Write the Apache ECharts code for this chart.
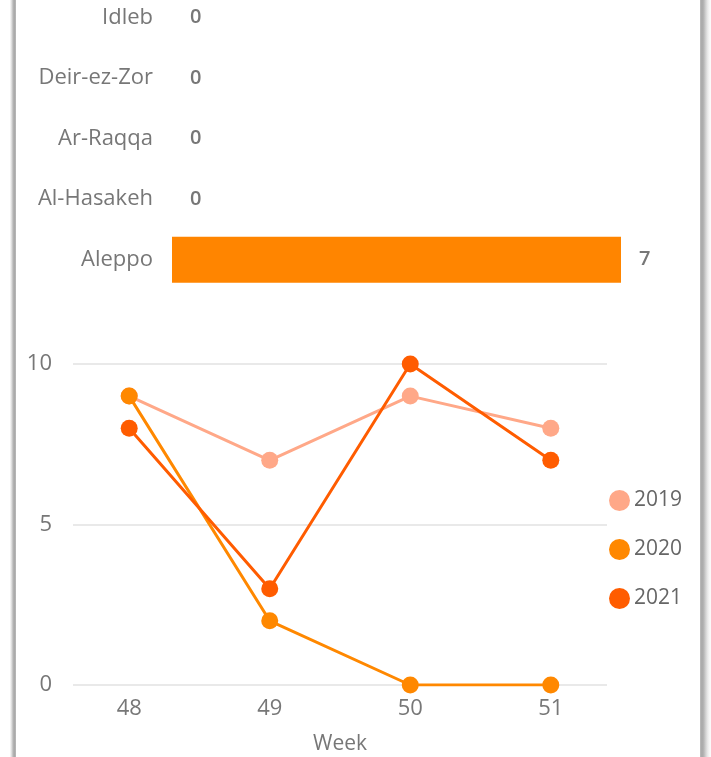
<!DOCTYPE html>
<html>
<head>
<meta charset="utf-8">
<script src="https://cdn.jsdelivr.net/npm/echarts@6/dist/echarts.min.js"></script>
<style>
  html, body { margin: 0; padding: 0; width: 711px; height: 757px; background: #fff; overflow: hidden; }
  #frameL { position: absolute; left: 10px; top: 0; width: 6px; height: 757px;
    background: linear-gradient(to right, #fafafa, #e6e6e6, #c8c8c8, #b0b0b0, #a8a8a8, #bdbdbd); }
  #frameR { position: absolute; left: 700px; top: 0; width: 11px; height: 757px;
    background: linear-gradient(to right, #bdbdbd, #a8a8a8, #b5b5b5, #cfcfcf, #e6e6e6, #f5f5f5, #fcfcfc); }
  #chart { position: absolute; left: 0; top: 0; width: 711px; height: 757px; }
</style>
</head>
<body>
<div id="chart"></div>
<div id="frameL"></div>
<div id="frameR"></div>
<script>
// ---- Data ----
const regions = ['Idleb', 'Deir-ez-Zor', 'Ar-Raqqa', 'Al-Hasakeh', 'Aleppo'];
const regionValues = [0, 0, 0, 0, 7];
const weeks = [48, 49, 50, 51];
const seriesNames = ['2019', '2020', '2021'];
const values2019 = [9, 7, 9, 8];
const values2020 = [9, 2, 0, 0];
const values2021 = [8, 3, 10, 7];
const yTicks = [0, 5, 10];

const colors = ['#FFA888', '#FF8800', '#FF5C00'];
const font = '"Open Sans", "Noto Sans", sans-serif';
const allLines = [values2019, values2020, values2021];

const chart = echarts.init(document.getElementById('chart'), null, { renderer: 'canvas' });

const lineSeries = seriesNames.map((name, i) => ({
  name: name,
  type: 'line',
  xAxisIndex: 1,
  yAxisIndex: 1,
  data: weeks.map((w, j) => [w, allLines[i][j]]),
  symbol: 'circle',
  symbolSize: 17,
  showSymbol: true,
  itemStyle: { color: colors[i] },
  lineStyle: { color: colors[i], width: 3 },
  z: 10 + i
}));

chart.setOption({
  animation: false,
  textStyle: { fontFamily: font },
  grid: [
    { left: 172, width: 449, top: -13, height: 303, containLabel: false, outerBoundsMode: 'none' },
    { left: 73, right: 104, top: 364, height: 321, containLabel: false, outerBoundsMode: 'none' }
  ],
  xAxis: [
    { type: 'value', gridIndex: 0, min: 0, max: 7, show: false },
    {
      type: 'value', gridIndex: 1, min: 47.6, max: 51.4,
      axisLine: { show: false }, axisTick: { show: false }, splitLine: { show: false },
      axisLabel: { customValues: weeks, color: '#777', fontSize: 22, margin: 13, fontFamily: font },
      name: 'Week', nameLocation: 'middle', nameGap: 49,
      nameTextStyle: { color: '#777', fontSize: 21, fontFamily: font }
    }
  ],
  yAxis: [
    {
      type: 'category', gridIndex: 0, data: regions, inverse: true,
      axisLine: { show: false }, axisTick: { show: false }, splitLine: { show: false },
      axisLabel: { color: '#777', fontSize: 22, margin: 19, fontFamily: font }
    },
    {
      type: 'value', gridIndex: 1, min: 0, max: 10, interval: 5,
      axisLine: { show: false }, axisTick: { show: false },
      splitLine: { show: true, lineStyle: { color: '#e9e9e9', width: 2 } },
      axisLabel: { color: '#777', fontSize: 22, margin: 21, fontFamily: font }
    }
  ],
  legend: {
    data: seriesNames,
    orient: 'vertical',
    left: 604, top: 485,
    icon: 'circle',
    itemWidth: 21, itemHeight: 21,
    itemGap: 28,
    textStyle: { color: '#666', fontSize: 21, fontFamily: font, padding: [0, 0, 0, -1] }
  },
  series: [
    {
      type: 'bar',
      xAxisIndex: 0, yAxisIndex: 0,
      data: regionValues,
      barWidth: 46,
      itemStyle: { color: '#FF8500' },
      label: {
        show: true, position: 'right', distance: 18,
        color: '#777', fontSize: 20, fontWeight: 600, fontFamily: font
      },
      silent: true
    }
  ].concat(lineSeries)
});
</script>
</body>
</html>
